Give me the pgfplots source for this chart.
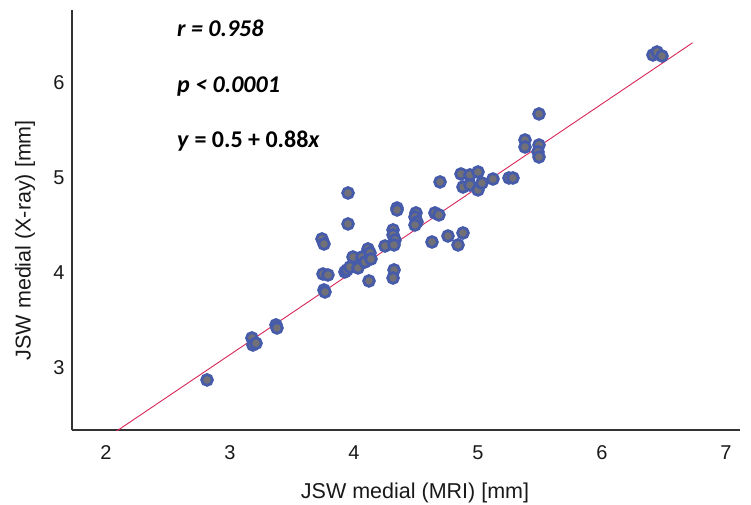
\documentclass[border=0pt]{standalone}
\usepackage{fontspec}
\setmainfont{Liberation Sans}
\newfontfamily\calib{Carlito}
\usepackage{pgfplots}
\pgfplotsset{compat=1.18}
\definecolor{ptfill}{RGB}{112,112,118}
\definecolor{ptedge}{RGB}{70,92,170}
\definecolor{fitline}{RGB}{216,38,88}
\begin{document}
\begin{tikzpicture}
\useasboundingbox (-72pt,-75pt) rectangle (679pt,430pt);
\begin{axis}[
 at={(0,0)}, anchor=south west,
 scale only axis, width=668pt, height=420pt,
 xmin=1.726, xmax=7.113, ymin=2.347, ymax=6.768,
 axis x line*=bottom, axis y line*=left,
 axis line style={line width=1.2pt, black!80, -},
 xtick={2,3,4,5,6,7}, ytick={3,4,5,6},
 major tick length=0pt,
 tick label style={font=\fontsize{20}{24}\selectfont, text=black!90},
 xticklabel style={yshift=-12pt},
 yticklabel style={xshift=-4pt},
 /pgf/number format/assume math mode=true,
 xlabel={JSW medial (MRI) [mm]},
 ylabel={JSW medial (X-ray) [mm]},
 label style={font=\fontsize{21.5}{25}\selectfont, text=black!90},
 xlabel style={at={(axis description cs:0.5135,0)}, anchor=center, yshift=-63pt},
 ylabel style={at={(axis description cs:-0.0704,0.452)}, anchor=center},
 clip=true,
]
\addplot[only marks, mark=*, mark size=5.4pt, mark options={fill=ptfill, draw=ptedge, line width=2.8pt}] table {
x y
2.815 2.874
3.177 3.316
3.185 3.242
3.21 3.26
3.371 3.453
3.379 3.421
3.742 4.358
3.758 4.305
3.750 3.989
3.790 3.979
3.758 3.821
3.766 3.800
3.952 4.842
3.952 4.516
3.927 4.011
3.944 4.032
3.968 4.063
3.992 4.168
4.032 4.053
4.065 4.168
4.089 4.116
4.113 4.253
4.129 4.211
4.137 4.147
4.121 3.916
4.250 4.284
4.315 4.453
4.315 4.400
4.331 4.347
4.323 4.295
4.323 4.032
4.315 3.947
4.347 4.684
4.347 4.663
4.500 4.632
4.492 4.589
4.508 4.537
4.492 4.505
4.629 4.326
4.653 4.632
4.685 4.611
4.694 4.958
4.758 4.389
4.879 4.421
4.839 4.295
4.863 5.042
4.935 5.032
5.000 5.063
4.879 4.905
4.935 4.926
5.000 4.874
5.032 4.947
5.121 4.989
5.250 5.000
5.282 5.000
5.379 5.400
5.379 5.326
5.492 5.347
5.484 5.274
5.492 5.221
5.492 5.674
6.411 6.295
6.444 6.326
6.484 6.284
};
\addplot[fitline, line width=0.9pt] coordinates {(1.95,2.216) (6.73,6.4224)};
\node[anchor=base west, inner sep=0, font=\calib\bfseries\itshape\fontsize{24}{28}\selectfont] at (axis cs:2.573,6.484) {r = 0.958};
\node[anchor=base west, inner sep=0, font=\calib\bfseries\itshape\fontsize{24}{28}\selectfont] at (axis cs:2.573,5.895) {p < 0.0001};
\node[anchor=base west, inner sep=0, font=\calib\bfseries\fontsize{24}{28}\selectfont] at (axis cs:2.573,5.316) {\textit{y} = 0.5 + 0.88\textit{x}};
\end{axis}
\end{tikzpicture}
\end{document}
